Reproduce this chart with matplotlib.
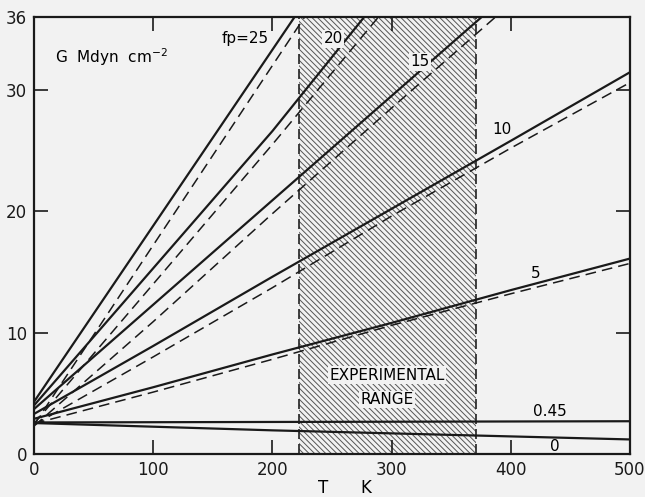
#!/usr/bin/env python3

import numpy as np
import matplotlib.pyplot as plt

# Temperatura (K) donde se leen los valores
T = [0, 100, 200, 300, 400, 500]

# Curvas solidas (G en Mdyn cm^-2)
solido_25 = [4.3, 18.8, 33.3, 47.8, 62.3, 76.8]
solido_20 = [4.0, 15.3, 26.6, 38.8, 51.0, 63.2]
solido_15 = [3.7, 12.3, 20.9, 29.5, 38.1, 46.7]
solido_10 = [3.3, 8.9, 14.6, 20.2, 25.8, 31.45]
solido_5 = [2.9, 5.5, 8.2, 10.8, 13.5, 16.1]
solido_045 = [2.6, 2.62, 2.64, 2.66, 2.68, 2.7]
solido_0 = [2.55, 2.25, 1.95, 1.7, 1.45, 1.2]

# Curvas discontinuas
guion_25 = [2.4, 17.2, 32.0, 46.8, 61.6, 76.4]
guion_20 = [2.5, 14.0, 25.5, 37.3, 49.1, 60.9]
guion_15 = [2.3, 10.9, 19.8, 28.5, 37.1, 45.7]
guion_10 = [2.4, 8.0, 13.7, 19.6, 25.2, 30.6]
guion_5 = [2.5, 5.1, 7.8, 10.6, 13.2, 15.7]

# Rango experimental
rango_exp = [222, 371]

fondo = '#f2f2f2'
plt.rcParams['hatch.linewidth'] = 0.7

fig = plt.figure(figsize=(6.45, 4.97), dpi=100, facecolor=fondo)
ax = fig.add_axes([0.0527, 0.0865, 0.924, 0.8793])
ax.set_facecolor(fondo)

# Zona rayada
ax.axvspan(rango_exp[0], rango_exp[1], facecolor='none', edgecolor='#555555',
           linewidth=0, hatch='\\\\\\\\\\\\', zorder=1)
for xv in rango_exp:
    ax.axvline(xv, color='#222222', lw=1.2, ls=(0, (6, 3)), zorder=2)

for ys in [solido_25, solido_20, solido_15, solido_10, solido_5,
           solido_045, solido_0]:
    ax.plot(T, ys, color='#1a1a1a', lw=1.6, zorder=3)

for ys in [guion_25, guion_20, guion_15, guion_10, guion_5]:
    ax.plot(T, ys, color='#1a1a1a', lw=1.1, ls=(0, (7, 4)), zorder=3)

ax.set_xlim(0, 500)
ax.set_ylim(0, 36)
ax.set_xticks([0, 100, 200, 300, 400, 500])
ax.set_yticks([0, 10, 20, 30, 36])

ax.tick_params(direction='in', length=10, width=1.2, top=True, right=True,
               labelsize=12, pad=5, colors='#1a1a1a')
for s in ax.spines.values():
    s.set_linewidth(1.6)
    s.set_color('#1a1a1a')

# Etiqueta del eje x
fig.text(323 / 645, 1 - 488 / 497, 'T', fontsize=12, ha='center', va='center')
fig.text(366 / 645, 1 - 488 / 497, 'K', fontsize=12, ha='center', va='center')

# Textos
caja = dict(facecolor=fondo, edgecolor='none', pad=1)
ax.text(18, 32.2, 'G  Mdyn  cm$^{-2}$', fontsize=11)
ax.text(177, 34.2, 'fp=25', fontsize=11, ha='center', va='center')
ax.text(251, 34.2, '20', fontsize=11, ha='center', va='center', bbox=caja)
ax.text(324, 32.3, '15', fontsize=11, ha='center', va='center', bbox=caja)
ax.text(393, 26.7, '10', fontsize=11, ha='center', va='center')
ax.text(421, 14.9, '5', fontsize=11, ha='center', va='center')
ax.text(433, 3.5, '0.45', fontsize=11, ha='center', va='center')
ax.text(437, 0.6, '0', fontsize=11, ha='center', va='center')
ax.text(296, 6.5, 'EXPERIMENTAL', fontsize=11, ha='center', va='center', bbox=caja)
ax.text(296, 4.5, 'RANGE', fontsize=11, ha='center', va='center', bbox=caja)

plt.savefig('out.png', dpi=100, facecolor=fondo)
